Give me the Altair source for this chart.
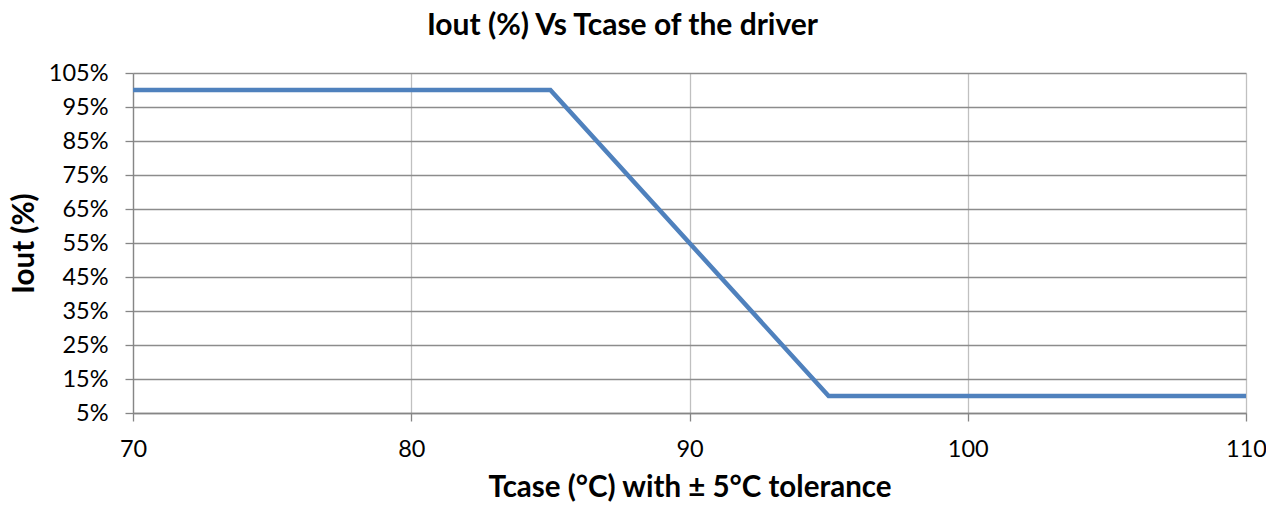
import altair as alt
import pandas as pd

tcase = [70, 85, 95, 110]
iout = [100, 100, 10, 10]
y_ticks = [5, 15, 25, 35, 45, 55, 65, 75, 85, 95, 105]
x_ticks = [70, 80, 90, 100, 110]

df = pd.DataFrame({"Tcase": tcase, "Iout": iout})

FONT = "Lato"
LABEL_SIZE = 23.5
TITLE_SIZE = 29.5

chart = alt.Chart(df).mark_line(color="#4f81bd", strokeWidth=4.5).encode(
    x=alt.X(
        "Tcase:Q",
        scale=alt.Scale(domain=[70, 110], nice=False, zero=False),
        axis=alt.Axis(
            values=x_ticks,
            title="Tcase (°C) with ± 5°C tolerance",
            titleFont=FONT, titleFontSize=TITLE_SIZE, titleFontWeight="bold", titleColor="#000",
            titlePadding=13,
            labelFont=FONT, labelFontSize=LABEL_SIZE, labelColor="#000", labelPadding=16,
            labelFlush=False,
            tickSize=8, tickColor="#868686", domainColor="#868686",
            gridColor="#c0c0c0", gridWidth=1.3,
        ),
    ),
    y=alt.Y(
        "Iout:Q",
        scale=alt.Scale(domain=[5, 105], nice=False, zero=False),
        axis=alt.Axis(
            values=y_ticks,
            labelExpr="datum.value + '%'",
            title="Iout (%)",
            titleFont=FONT, titleFontSize=TITLE_SIZE, titleFontWeight="bold", titleColor="#000",
            titlePadding=9,
            labelFont=FONT, labelFontSize=LABEL_SIZE, labelColor="#000", labelPadding=17,
            labelFlush=False,
            tickSize=8, tickColor="#868686", domainColor="#868686",
            gridColor="#8c8c8c", gridWidth=1.3,
        ),
    ),
).properties(
    width=1113,
    height=340,
    autosize=alt.AutoSizeParams(type="none"),
    padding={"left": 125, "top": 65, "right": 20, "bottom": 92},
    title=alt.TitleParams(
        "Iout (%) Vs Tcase of the driver",
        font=FONT, fontSize=30, fontWeight="bold", color="#000",
        anchor="middle", dx=-67, offset=20,
    ),
).configure_view(stroke=None).configure_axis(domainWidth=1.3, tickWidth=1.3)

chart.save("out.html", embed_options={"renderer": "svg", "actions": False})
